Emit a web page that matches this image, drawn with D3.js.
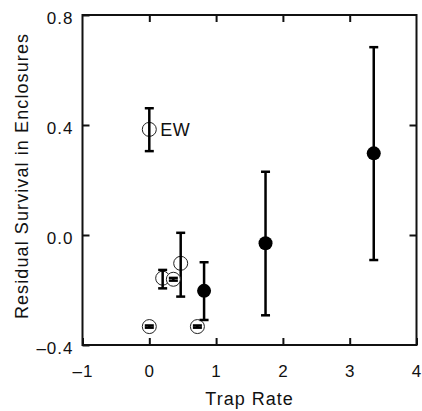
<!DOCTYPE html>
<html>
<head>
<meta charset="utf-8">
<script src="https://cdn.jsdelivr.net/npm/d3@7"></script>
<style>
  body { margin: 0; background: #fff; }
  text { font-family: "Liberation Sans", Arial, sans-serif; fill: #111; }
</style>
</head>
<body>
<script>
// data
var trapRate = [0, 0.47, 0.20, 0.36, 0, 0.72, 0.82, 1.74, 3.36];
var survival = [0.384, -0.103, -0.157, -0.161, -0.333, -0.333, -0.203, -0.030, 0.297];
var lower    = [0.305, -0.224, -0.194, -0.166, -0.337, -0.337, -0.309, -0.292, -0.091];
var upper    = [0.461, 0.008, -0.127, -0.156, -0.329, -0.329, -0.099, 0.230, 0.683];
var filled   = [false, false, false, false, false, false, true, true, true];
var pointLabels = ["EW", "", "", "", "", "", "", "", ""];
var xTicks = [-1, 0, 1, 2, 3, 4];
var yTicks = [-0.4, 0.0, 0.4, 0.8];

var w = 422, h = 411;
var svg = d3.select("body").append("svg")
    .attr("width", w)
    .attr("height", h);

var x = d3.scaleLinear().domain([-1, 4]).range([82.5, 416.5]);
var y = d3.scaleLinear().domain([-0.4, 0.8]).range([345, 15]);

var fmtY = function(d){ return d3.format(".1f")(d).replace("−", "–"); };
var fmtX = function(d){ return String(d).replace("-", "–"); };

// axes, ticks pointing inward
function styleAxis(g, size){
    g.select(".domain").remove();
    g.selectAll(".tick line").attr("stroke", "#111").attr("stroke-width", 2);
    g.selectAll(".tick text").style("font-size", size + "px").style("letter-spacing", "1px").attr("fill", "#111");
}

svg.append("g")
    .attr("transform", "translate(0," + y(-0.4) + ")")
    .call(d3.axisBottom(x).tickValues(xTicks).tickSize(-7).tickPadding(20).tickFormat(fmtX))
    .call(styleAxis, 17);

svg.append("g")
    .attr("transform", "translate(" + x(-1) + ",0)")
    .call(d3.axisLeft(y).tickValues(yTicks).tickSize(-7).tickPadding(9).tickFormat(fmtY))
    .call(styleAxis, 17)
    .selectAll(".tick text").attr("dy", "0.48em");

svg.append("g")
    .attr("transform", "translate(0," + y(0.8) + ")")
    .call(d3.axisTop(x).tickValues(xTicks.slice(1, -1)).tickSize(-7).tickFormat(""))
    .call(styleAxis, 17);

svg.append("g")
    .attr("transform", "translate(" + x(4) + ",0)")
    .call(d3.axisRight(y).tickValues(yTicks.slice(1, -1)).tickSize(-7).tickFormat(""))
    .call(styleAxis, 17);

// frame
svg.append("rect")
    .attr("x", x(-1)).attr("y", y(0.8))
    .attr("width", x(4) - x(-1)).attr("height", y(-0.4) - y(0.8))
    .attr("fill", "none").attr("stroke", "#111").attr("stroke-width", 2);

// axis titles
svg.append("text")
    .attr("x", (x(-1) + x(4)) / 2).attr("y", 405)
    .attr("text-anchor", "middle")
    .style("font-size", "18px").style("letter-spacing", "1px")
    .text("Trap Rate");

svg.append("text")
    .attr("transform", "translate(28," + 176 + ") rotate(-90)")
    .attr("text-anchor", "middle")
    .style("font-size", "18px").style("letter-spacing", "1.1px")
    .text("Residual Survival in Enclosures");

// points with error bars
var pts = trapRate.map(function(d, i){
    return {x: d, y: survival[i], lo: lower[i], hi: upper[i], f: filled[i], lab: pointLabels[i]};
});

var cap = 4.5;
var g = svg.selectAll(".pt").data(pts).enter().append("g").attr("class", "pt");

g.append("circle")
    .attr("cx", function(d){ return x(d.x); })
    .attr("cy", function(d){ return y(d.y); })
    .attr("r", 7)
    .attr("fill", function(d){ return d.f ? "#000" : "#fff"; })
    .attr("stroke", "#222")
    .attr("stroke-width", function(d){ return d.f ? 0 : 1; });

g.append("line")
    .attr("x1", function(d){ return x(d.x); }).attr("x2", function(d){ return x(d.x); })
    .attr("y1", function(d){ return y(d.lo); }).attr("y2", function(d){ return y(d.hi); })
    .attr("stroke", "#000").attr("stroke-width", 2.5);

g.append("line")
    .attr("x1", function(d){ return x(d.x) - cap; }).attr("x2", function(d){ return x(d.x) + cap; })
    .attr("y1", function(d){ return y(d.hi); }).attr("y2", function(d){ return y(d.hi); })
    .attr("stroke", "#000").attr("stroke-width", 2.5);

g.append("line")
    .attr("x1", function(d){ return x(d.x) - cap; }).attr("x2", function(d){ return x(d.x) + cap; })
    .attr("y1", function(d){ return y(d.lo); }).attr("y2", function(d){ return y(d.lo); })
    .attr("stroke", "#000").attr("stroke-width", 2.5);

g.filter(function(d){ return d.lab; }).append("text")
    .attr("x", function(d){ return x(d.x) + 11; })
    .attr("y", function(d){ return y(d.y) + 7; })
    .style("font-size", "18px").style("letter-spacing", "0.5px")
    .text(function(d){ return d.lab; });
</script>
</body>
</html>
